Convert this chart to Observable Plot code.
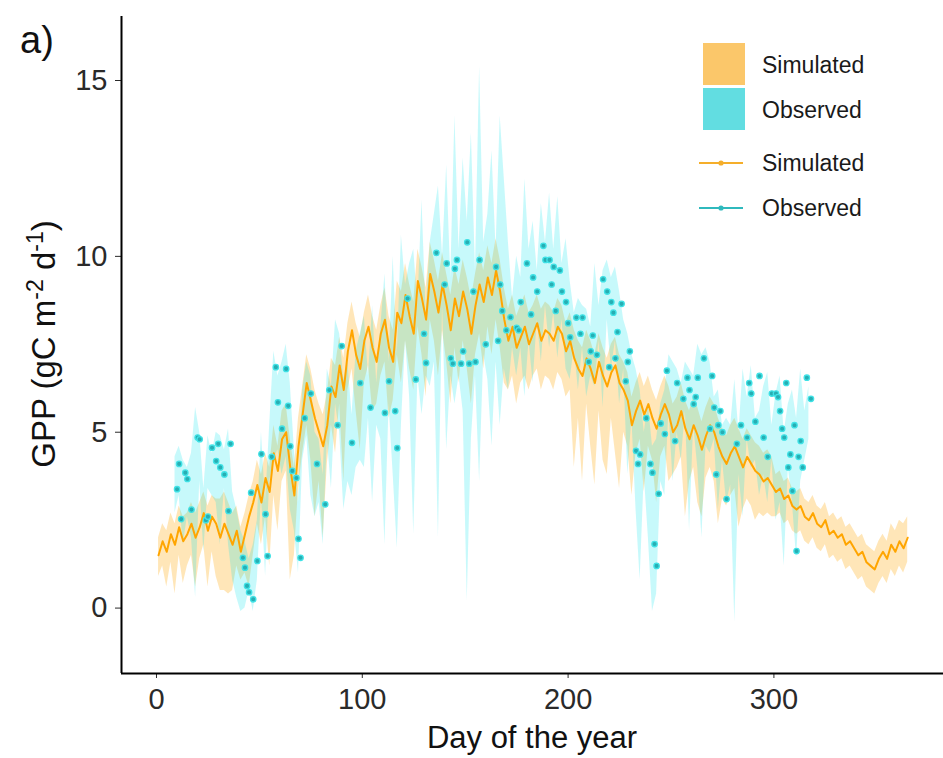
<!DOCTYPE html>
<html><head><meta charset="utf-8">
<script src="https://cdn.jsdelivr.net/npm/d3@7"></script>
<script src="https://cdn.jsdelivr.net/npm/@observablehq/plot@0.6"></script>
<style>
html,body{margin:0;padding:0;background:#fff;}
#wrap{position:relative;width:943px;height:758px;font-family:"Liberation Sans",Arial,Helvetica,sans-serif;}
#wrap svg.overlay{position:absolute;left:0;top:0;pointer-events:none;}
</style></head><body><div id="wrap"></div>
<script>
// ---- data ----
const simStartDay = 1, simStep = 2;
const simVal = [
 1.5,1.9,1.6,2.1,1.8,2.3,1.9,2.1,2.4,2.0,2.3,2.7,2.2,2.6,2.4,2.0,2.4,2.1,1.8,2.2,1.6,2.1,2.6,
 3.0,3.5,3.0,3.7,3.3,4.4,3.9,4.8,5.0,4.0,3.2,4.6,5.5,6.4,5.9,5.4,5.0,4.6,5.2,6.3,6.0,6.9,6.2,7.3,7.9,7.2,6.8,
 7.6,8.0,7.4,7.0,7.8,8.2,7.4,7.0,8.4,8.1, 8.9,8.3,7.8,9.3,8.8,8.2,9.5,9.0,8.4,9.2, 8.6,7.9,8.8,8.3,9.0,8.5,7.8,8.6,9.2,8.7, 9.4,8.9,9.6,9.0,8.2,7.6,8.0,7.4,7.7,8.0, 7.5,7.8,8.1,7.6,7.9,7.8,7.6,8.0,7.8,7.3,
 7.6,7.1,6.8,6.6,7.1,6.8,6.4,7.0,6.6,6.3, 6.7,6.9,6.4,6.2,5.9,5.2,5.6,5.9,5.5,5.8, 5.4,5.1,5.5,5.8,5.5,5.0,5.2,5.6,5.1,4.8, 5.2,4.9,4.5,4.9,5.2,5.0,4.6,4.3,4.1,4.4, 4.6,4.3,4.0,4.3,4.1,3.9,3.8,3.6,3.7,3.5,
 3.3,3.4,3.1,3.2,2.9,2.8,2.9,2.6,2.5,2.7, 2.4,2.3,2.5,2.1,2.2,2.0,2.1,1.8,1.9,1.7, 1.5,1.6,1.3,1.2,1.1,1.4,1.6,1.4,1.8,1.6, 1.9,1.7,2.0
];
const simHi = [
 2.0,2.4,2.2,2.7,2.4,2.9,2.6,2.7,3.0,2.7,3.0,3.3,2.9,3.2,3.1,3.1,3.3,3.0,2.7,2.9,2.3,2.7,3.2,
 3.6,4.2,3.8,4.4,4.0,5.2,4.6,5.6,5.8,4.8,4.0,5.4,6.3,7.2,6.8,6.2,5.8,5.5,6.1,7.1,6.9,7.7,7.1,8.1,8.7,8.1,7.7,
 8.4,8.9,8.3,7.9,8.6,9.1,8.3,7.9,9.3,9.0, 9.8,9.2,8.7,10.2,9.7,9.1,10.4,9.9,9.3,10.1, 9.5,8.9,9.7,9.2,9.9,9.4,8.8,9.5,10.1,9.6, 10.3,9.8,10.5,9.9,9.1,8.5,8.9,8.3,8.6,8.9, 8.4,8.6,8.9,8.5,8.7,8.6,8.4,8.8,8.6,8.1,
 8.4,7.9,7.6,7.4,7.9,7.6,7.2,7.8,7.4,7.1, 7.5,7.7,7.2,7.0,6.7,6.0,6.4,6.7,6.3,6.6, 6.2,5.9,6.3,6.6,6.3,5.8,6.0,6.4,5.9,5.6, 6.0,5.7,5.3,5.7,6.0,5.8,5.4,5.1,4.9,5.2, 5.4,5.1,4.8,5.1,4.9,4.7,4.6,4.4,4.5,4.3,
 3.8,3.9,3.6,3.7,3.4,3.3,3.4,3.1,3.0,3.2, 2.9,2.8,3.0,2.6,2.7,2.5,2.6,2.3,2.4,2.2, 2.0,2.1,1.8,1.7,1.6,1.9,2.1,1.9,2.4,2.2, 2.5,2.4,2.6
];
const simLo = [
 0.9,1.2,0.6,1.3,0.4,1.5,0.7,1.2,1.5,0.6,1.4,1.8,0.6,1.6,0.9,0.5,0.5,0.4,0.5,1.2,0.8,1.0,0.6,
 1.5,2.4,1.8,2.6,1.2,3.2,2.2,3.6,3.9,0.8,1.5,3.4,4.4,5.2,4.2,2.6,3.6,2.0,4.1,5.2,4.4,5.8,3.6,6.2,6.8,5.6,4.5,
 6.4,6.9,5.6,5.8,6.6,7.0,5.4,5.9,7.2,6.4, 7.6,6.8,6.2,8.0,7.2,6.0,8.2,7.6,6.6,7.9, 7.0,5.8,7.4,6.4,7.6,6.8,5.8,7.2,7.8,6.8, 8.0,7.2,8.2,7.4,6.4,6.2,6.6,5.8,6.4,6.6, 6.2,6.6,6.8,6.2,6.6,6.5,6.2,6.7,6.5,6.0,
 6.2,4.0,5.4,3.6,5.8,4.6,3.5,5.6,4.2,3.8, 5.4,4.4,3.4,5.0,4.6,3.2,4.4,4.8,3.3,4.6, 4.2,3.0,4.3,4.6,3.6,3.8,4.0,4.3,2.6,3.6, 4.0,3.0,2.6,3.7,4.0,3.6,2.4,3.1,2.9,3.2, 3.4,2.3,2.8,3.1,2.9,2.5,2.7,2.6,2.7,2.6,
 2.6,2.7,2.4,2.5,2.2,2.1,2.2,1.9,1.8,2.0, 1.7,1.6,1.8,1.4,1.5,1.3,1.4,1.1,1.2,1.0, 0.8,0.9,0.6,0.5,0.4,0.7,0.9,0.7,1.1,0.9, 1.2,1.0,1.3
];
const obsBandStartDay = 9, obsBandStep = 2;
const obsHi = [
 4.3,4.6,4.2,4.0,4.4,5.7,5.0,3.4,4.9,4.4,5.0,4.9,4.5,5.1,3.3,2.8,2.2,1.9,1.4,
 1.8,2.5,5.0,3.0,5.2,7.3,6.6,7.0,7.5,6.4,4.5,3.0,6.2,7.0,6.6,5.0,4.8,3.8,6.8,6.3,8.2,7.8,6.5,7.0,5.5,7.3,7.8,
 8.3,6.6,8.6,6.4,8.0,9.5,7.0,10.0,7.2,10.6,9.2,9.8,10.2,8.6,11.6,8.4,10.4,11.2,
 12.0,10.0,12.6,9.4,14.0,10.2,12.8,11.0,13.5,9.6,15.4,10.4,11.2,13.0,10.2,14.0,12.2,
 10.4,8.8,10.0,9.4,12.2,10.2,11.0,9.6,11.5,10.4,11.8,10.2,11.7,9.8,10.5,
 9.3,8.4,8.8,8.6,8.5,8.0,9.8,8.6,9.6,9.9,9.4,9.7,9.0,8.2,7.8,7.2,6.8,
 6.2,5.0,5.8,4.6,4.8,5.8,6.2,7.2,7.0,6.8,6.4,7.0,6.8,6.6,7.5,7.2,7.4,
 7.0,6.0,6.2,5.2,5.4,5.2,6.5,5.0,6.8,6.0,6.9,5.4,5.6,6.3,6.7,5.2,6.1,6.6,5.0,5.8,6.2,5.4,6.8,5.6,6.3
];
const obsLo = [
 2.7,3.2,1.8,2.6,2.0,0.3,3.6,1.6,3.4,3.2,3.0,1.8,3.4,1.8,0.8,0.3,-0.1,0.0,0.5,
 -0.1,0.8,3.2,0.9,3.6,4.2,4.5,3.8,4.3,2.8,2.2,1.0,4.2,4.9,3.2,2.6,3.0,1.8,4.8,3.4,5.8,5.0,2.8,3.6,3.2,4.0,4.2,
 4.0,5.4,3.0,5.2,4.8,1.8,5.8,3.8,1.7,5.2,7.6,6.0,2.1,6.6,5.5,6.6,6.3,7.0,
 2.0,8.6,4.5,6.6,5.8,6.6,5.6,0.2,4.8,6.6,3.6,7.2,6.5,4.6,7.0,5.2,6.8,
 6.2,7.4,6.6,7.4,6.0,7.6,6.4,8.2,7.0,8.6,7.4,8.4,7.1,8.2,6.8,
 6.5,7.4,6.2,7.4,6.0,6.6,6.3,7.6,5.7,8.2,6.8,7.6,5.8,6.8,3.8,5.4,2.8,
 0.8,3.8,2.0,-0.1,0.4,3.6,3.2,5.6,3.6,5.0,4.2,5.6,2.2,5.2,4.0,2.0,4.6,
 4.4,4.8,2.8,4.2,3.0,3.5,-0.4,3.8,2.6,4.8,4.0,4.2,3.2,3.8,3.0,4.2,2.5,3.0,1.2,4.0,3.0,1.4,3.6,4.2,4.8
];
const obsDay = [10,11,12,14,15,17,20,21,24,25,27,29,30,31,33,35,36,42,43,44,45,46,47,49,51,53,54,56,58,59,61,63,64,65,66,68,69,70,72,75,78,82,84,88,90,95,99,104,111,113,116,117,122,126,130,131,136,140,141,143,144,145,146,148,149,151,152,154,155,157,160,165,166,167,168,170,172,175,176,177,180,182,183,185,188,189,191,192,193,194,196,197,199,200,201,204,206,207,210,211,212,214,217,219,220,221,222,223,224,226,228,229,230,233,234,235,238,240,241,242,243,244,245,247,248,252,253,256,258,259,261,262,263,266,269,270,271,272,273,274,275,277,282,284,287,288,289,291,293,295,297,299,301,302,303,304,305,306,307,308,309,310,311,312,313,314,316,318];
const obsVal = [3.38,4.1,2.53,3.85,3.67,2.8,4.85,4.8,2.5,2.6,4.56,4.18,4.67,4.0,3.8,2.76,4.67,1.43,1.15,0.63,0.45,3.28,0.25,1.34,4.38,2.67,1.48,4.3,6.85,5.85,5.1,6.8,5.75,4.6,3.9,3.7,1.97,1.43,5.4,6.1,4.1,2.95,6.2,5.2,7.45,4.7,6.4,5.7,5.55,6.45,5.6,4.55,8.8,6.5,7.8,6.97,10.1,9.2,9.8,7.1,6.95,9.65,9.9,6.95,7.3,10.4,6.95,9.0,7.0,9.9,7.5,9.7,7.6,9.2,8.45,7.9,8.27,7.97,7.9,8.7,9.8,8.35,9.4,9.0,10.3,9.9,9.9,9.2,9.7,8.45,9.6,9.0,8.7,8.1,7.7,8.26,7.8,8.26,7.0,7.3,7.75,7.2,9.35,9.0,6.85,8.7,8.4,7.1,7.85,8.65,6.45,7.0,7.3,4.47,4.1,4.37,5.4,4.1,3.85,1.82,1.2,3.25,5.25,4.95,6.75,4.75,6.4,5.95,6.55,6.2,5.8,6.0,6.55,7.1,5.1,6.6,5.7,3.8,5.2,5.6,5.0,3.1,4.67,5.2,4.85,6.4,6.1,5.3,6.6,4.85,4.3,6.1,6.1,6.0,5.6,5.1,4.85,6.4,4.0,4.37,3.33,5.2,1.62,4.3,4.75,4.0,6.55,5.95];
const xTicks = [0, 100, 200, 300];
const yTicks = [0, 5, 10, 15];
const xDomain = [-17, 382.4];
const yDomain = [-1.86, 16.82];
const legendFill = ["Simulated", "Observed"];
const legendLine = ["Simulated", "Observed"];
const xTitle = "Day of the year";
const panelTag = "a)";

// ---- tables ----
const sim = simVal.map((v, i) => ({day: simStartDay + i * simStep, v, lo: simLo[i], hi: simHi[i]}));
const obsBand = obsLo.map((lo, i) => ({day: obsBandStartDay + i * obsBandStep, lo, hi: obsHi[i]}));
const obs = obsDay.map((d, i) => ({day: d, v: obsVal[i]}));

const FONT = '"Liberation Sans", Arial, Helvetica, sans-serif';
const chart = Plot.plot({
  width: 943, height: 758,
  marginLeft: 121, marginRight: 0, marginTop: 16, marginBottom: 85,
  style: {fontFamily: FONT, fontSize: "29px", color: "#2a2a2a", background: "white", overflow: "visible"},
  x: {domain: xDomain, ticks: xTicks, tickSize: 5, tickPadding: 10, label: null},
  y: {domain: yDomain, ticks: yTicks, tickSize: 6, tickPadding: 8, label: null},
  marks: [
    Plot.areaY(sim, {x: "day", y1: "lo", y2: "hi", fill: "#FFA500", fillOpacity: 0.28}),
    Plot.areaY(obsBand, {x: "day", y1: "lo", y2: "hi", fill: "#00E5EE", fillOpacity: 0.22}),
    Plot.lineY(sim, {x: "day", y: "v", stroke: "#FFA500", strokeWidth: 2}),
    Plot.dot(obs, {x: "day", y: "v", r: 2.7, fill: "#27AEB3", stroke: "#3FE2E6", strokeWidth: 1.3}),
    Plot.ruleX([xDomain[0]], {stroke: "#000", strokeWidth: 2}),
    Plot.ruleY([yDomain[0]], {stroke: "#000", strokeWidth: 2})
  ]
});
const wrap = document.getElementById("wrap");
wrap.appendChild(chart);

// ---- overlay: titles and legend ----
const ov = d3.select(wrap).append("svg").attr("class", "overlay")
  .attr("width", 943).attr("height", 758).style("font-family", FONT);
ov.append("text").attr("x", 20).attr("y", 53).attr("font-size", 38).attr("fill", "#111").text(panelTag);
ov.append("text").attr("x", 532).attr("y", 748).attr("text-anchor", "middle")
  .attr("font-size", 31).attr("fill", "#111").text(xTitle);
const yt = ov.append("text").attr("transform", "translate(55,344) rotate(-90)")
  .attr("text-anchor", "middle").attr("font-size", 33).attr("fill", "#111");
yt.append("tspan").text("GPP (gC m");
yt.append("tspan").attr("dy", -12).attr("font-size", 23).text("-2");
yt.append("tspan").attr("dy", 12).text(" d");
yt.append("tspan").attr("dy", -12).attr("font-size", 23).text("-1");
yt.append("tspan").attr("dy", 12).text(")");

const lg = ov.append("g");
const fillCols = ["#FBC76A", "#62DDE1"];
legendFill.forEach((t, i) => {
  lg.append("rect").attr("x", 703).attr("y", 43 + i * 45).attr("width", 42).attr("height", 42).attr("fill", fillCols[i]);
  lg.append("text").attr("x", 762).attr("y", 65 + i * 45).attr("dy", "0.36em").attr("font-size", 23).attr("fill", "#1a1a1a").text(t);
});
const lineCols = ["#F5AE2A", "#2FB9BD"];
legendLine.forEach((t, i) => {
  const y = 163 + i * 45;
  lg.append("line").attr("x1", 699).attr("x2", 743).attr("y1", y).attr("y2", y).attr("stroke", lineCols[i]).attr("stroke-width", 2);
  lg.append("circle").attr("cx", 721).attr("cy", y).attr("r", 2.6).attr("fill", lineCols[i]);
  lg.append("text").attr("x", 762).attr("y", y).attr("dy", "0.36em").attr("font-size", 23).attr("fill", "#1a1a1a").text(t);
});
</script></body></html>
